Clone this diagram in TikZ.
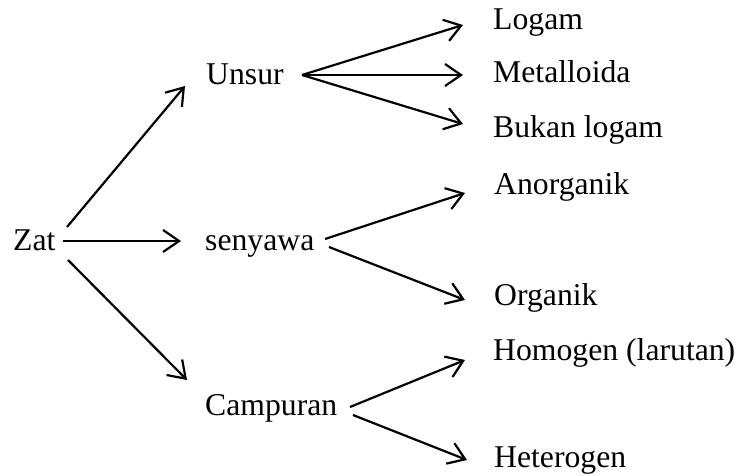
\documentclass[tikz,border=0pt]{standalone}
\usepackage{fontspec}
\setmainfont{Liberation Serif}
\usetikzlibrary{arrows.meta}
\begin{document}
\begin{tikzpicture}[x=1pt,y=-1pt,
  lbl/.style={anchor=base west,inner sep=0pt,font=\fontsize{31.7}{38}\selectfont},
  arr/.style={line width=2.2pt,-{Straight Barb[length=16pt,width=22pt,line width=2.2pt]}}]
\useasboundingbox (0,0) rectangle (741,476);
% nodes
\node[lbl] (zat) at (13,250) {Zat};
\node[lbl] (unsur) at (206,85) {Unsur};
\node[lbl] (senyawa) at (205,250) {senyawa};
\node[lbl] (campuran) at (205,415) {Campuran};
\node[lbl] (logam) at (493,30) {Logam};
\node[lbl] (metal) at (493,83) {Metalloida};
\node[lbl] (bukan) at (493,138) {Bukan logam};
\node[lbl] (anorg) at (494,194) {Anorganik};
\node[lbl] (org) at (494,305) {Organik};
\node[lbl] (homo) at (493,360) {Homogen (larutan)};
\node[lbl] (hetero) at (494,467) {Heterogen};
% connector end points
\coordinate (z1) at (67,227);
\coordinate (z2) at (63,241);
\coordinate (z3) at (68,260);
\coordinate (zu) at (185,86);
\coordinate (zs) at (181,241);
\coordinate (zc) at (187,380);
\coordinate (u0) at (302,75);
\coordinate (ul) at (463,25);
\coordinate (um) at (463,75);
\coordinate (ub) at (463,124);
\coordinate (s1) at (325,239);
\coordinate (s2) at (329,247);
\coordinate (sa) at (465,193);
\coordinate (so) at (465,300);
\coordinate (c1) at (350,407);
\coordinate (c2) at (353,415);
\coordinate (ch) at (465,360);
\coordinate (ce) at (467,460);
% connectors
\draw[arr] (z1) -- (zu);
\draw[arr] (z2) -- (zs);
\draw[arr] (z3) -- (zc);
\draw[arr] (u0) -- (ul);
\draw[arr] (u0) -- (um);
\draw[arr] (u0) -- (ub);
\draw[arr] (s1) -- (sa);
\draw[arr] (s2) -- (so);
\draw[arr] (c1) -- (ch);
\draw[arr] (c2) -- (ce);
\end{tikzpicture}
\end{document}
